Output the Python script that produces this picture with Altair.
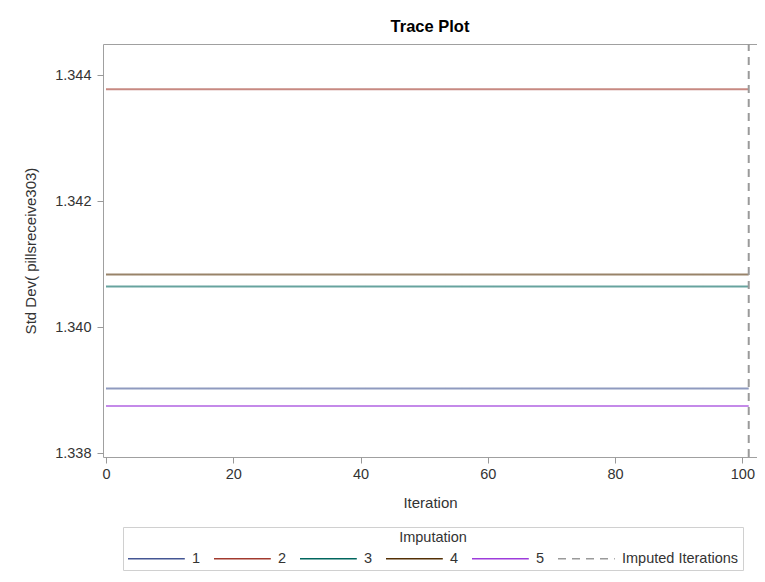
import altair as alt
import pandas as pd

# ---- data ----
imputations = ["1", "2", "3", "4", "5"]
std_dev = [1.33903, 1.34378, 1.34065, 1.34084, 1.33875]
first_iteration = 0
last_iteration = 101
imputed_iteration = 101
imputed_label = "Imputed Iterations"
y_domain = [1.33794, 1.34450]
x_domain = [-0.47, 102.3]
y_ticks = [1.338, 1.340, 1.342, 1.344]
x_ticks = [0, 20, 40, 60, 80, 100]

colors = ["#445694", "#A23A2E", "#01665E", "#543005", "#9D3CDB", "#9A9A9A"]

rows = []
for imp, v in zip(imputations, std_dev):
    for it in range(first_iteration, last_iteration + 1):
        rows.append({"Iteration": it, "StdDev": v, "Imputation": imp})
lines_df = pd.DataFrame(rows)

vert_df = pd.DataFrame({
    "Iteration": [imputed_iteration, imputed_iteration],
    "StdDev": y_domain,
    "Imputation": [imputed_label, imputed_label],
})

domain_all = imputations + [imputed_label]
color_scale = alt.Scale(domain=domain_all, range=colors)
dash_scale = alt.Scale(domain=domain_all,
                       range=[[1, 0]] * 5 + [[8, 6]])

# long horizontal stroke symbol drawn from the left edge of a small symbol box
legend = alt.Legend(
    orient="none", legendX=20, legendY=483,
    direction="horizontal", columns=6,
    title="Imputation", titleAnchor="middle", titleOrient="top",
    titleFontSize=14.5, titleFontWeight="normal", titleColor="#333333",
    titleFont="Liberation Sans", titlePadding=4,
    labelFont="Liberation Sans", labelFontSize=14.5, labelColor="#333333",
    labelOffset=47, columnPadding=10,
    symbolType="M-1,0H6.1", symbolSize=256, symbolStrokeWidth=1.5,
    symbolOpacity=1,
    strokeColor="#D0D0D0", padding=4,
)

x_enc = alt.X("Iteration:Q",
              scale=alt.Scale(domain=x_domain, nice=False, zero=False),
              axis=alt.Axis(title="Iteration", values=x_ticks, format="d",
                            grid=False, domain=False, tickColor="#999999",
                            tickSize=6, labelPadding=4, titlePadding=15))
y_enc = alt.Y("StdDev:Q",
              scale=alt.Scale(domain=y_domain, nice=False, zero=False),
              axis=alt.Axis(title="Std Dev( pillsreceive303)", values=y_ticks,
                            format=".3f", grid=False, domain=False,
                            tickColor="#999999", tickSize=6, labelPadding=6,
                            titlePadding=16))
color_enc = alt.Color("Imputation:N", scale=color_scale, legend=legend)
dash_enc = alt.StrokeDash("Imputation:N", scale=dash_scale, legend=legend)

lines = alt.Chart(lines_df).mark_line(strokeWidth=2, opacity=0.6).encode(
    x=x_enc, y=y_enc, color=color_enc, strokeDash=dash_enc,
)

vert = alt.Chart(vert_df).mark_line(strokeWidth=2, opacity=1).encode(
    x=x_enc, y=y_enc, color=color_enc, strokeDash=dash_enc,
    order=alt.Order("StdDev:Q"),
)

chart = alt.layer(lines, vert).properties(
    width=654, height=413,
    title=alt.TitleParams("Trace Plot", fontSize=16.5, fontWeight="bold",
                          font="Liberation Sans", color="#000000",
                          anchor="middle", offset=5),
    autosize=alt.AutoSizeParams(type="none"),
    padding={"left": 95, "top": 36, "right": 0, "bottom": 115},
).configure_view(
    stroke="#A0A0A0", strokeWidth=1,
).configure_axis(
    labelFont="Liberation Sans", labelFontSize=14.5, labelColor="#333333",
    titleFont="Liberation Sans", titleFontSize=15, titleFontWeight="normal",
    titleColor="#333333",
)

chart.save("out.html", embed_options={"renderer": "svg", "actions": False})
